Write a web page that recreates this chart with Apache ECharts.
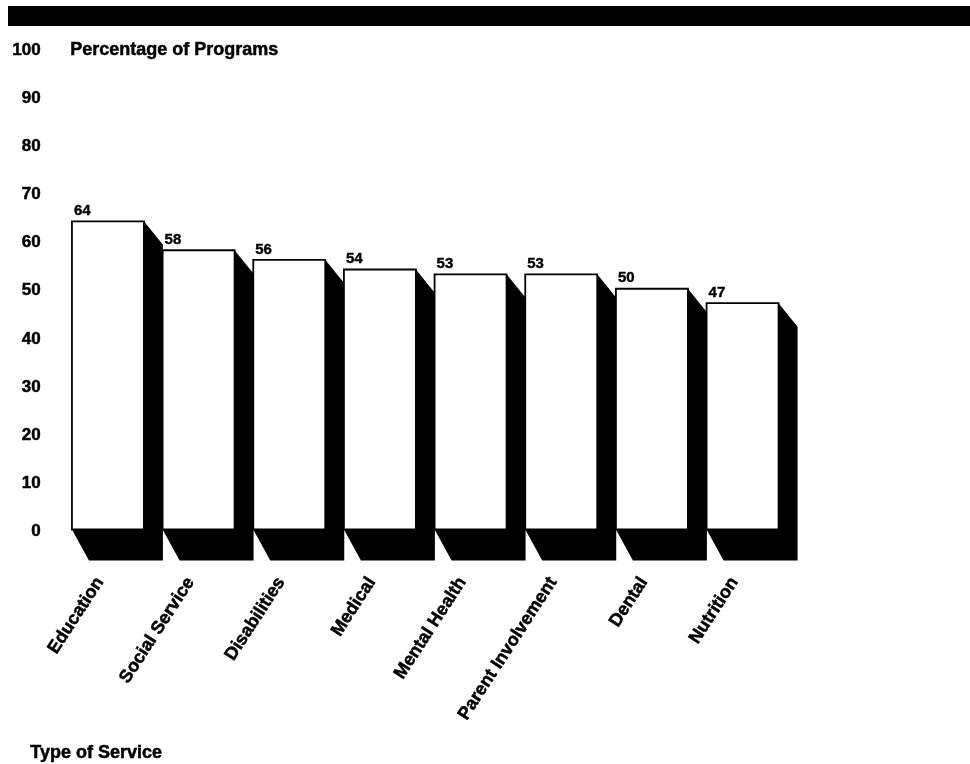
<!DOCTYPE html>
<html>
<head>
<meta charset="utf-8">
<script src="https://cdn.jsdelivr.net/npm/echarts@6/dist/echarts.min.js"></script>
<style>html,body{margin:0;padding:0;background:#fff;}#c{width:970px;height:764px;}</style>
</head>
<body>
<div id="c"></div>
<script>
var categories = ["Education", "Social Service", "Disabilities", "Medical", "Mental Health", "Parent Involvement", "Dental", "Nutrition"];
var values = [64, 58, 56, 54, 53, 53, 50, 47];
var yTicks = [0, 10, 20, 30, 40, 50, 60, 70, 80, 90, 100];
var yTitle = "Percentage of Programs";
var xTitle = "Type of Service";

var FONT = "Liberation Sans";
var chart = echarts.init(document.getElementById('c'), null, {renderer: 'canvas'});

var data = values.map(function (v, i) { return [i, v]; });

var option = {
  backgroundColor: '#ffffff',
  animation: false,
  grid: {left: 62.6, right: 182.1, top: 48, bottom: 234.5, containLabel: false},
  xAxis: {
    type: 'category',
    data: categories,
    boundaryGap: true,
    axisLine: {show: false},
    axisTick: {show: false},
    splitLine: {show: false},
    axisLabel: {
      interval: 0,
      rotate: 57,
      margin: 37,
      color: '#000',
      fontFamily: FONT,
      fontWeight: 'bold',
      fontSize: 18,
      textBorderColor: '#000',
      textBorderWidth: 0.5,
      padding: [0, 15, 0, 0]
    }
  },
  yAxis: {
    type: 'value',
    min: yTicks[0],
    max: yTicks[yTicks.length - 1],
    interval: 10,
    axisLine: {show: false},
    axisTick: {show: false},
    splitLine: {show: false},
    axisLabel: {
      margin: 22,
      formatter: '{a|{value}}',
      rich: {
        a: {
          color: '#000',
          fontFamily: FONT,
          fontWeight: 'bold',
          fontSize: 17,
          textBorderColor: '#000',
          textBorderWidth: 0.5,
          padding: [4, 0, 0, 0]
        }
      }
    }
  },
  graphic: [
    {type: 'rect', left: 8, top: 6, shape: {width: 962, height: 20}, style: {fill: '#000'}, z: 10},
    {type: 'text', left: 70, top: 41, style: {text: yTitle, fill: '#000', stroke: '#000', lineWidth: 0.5, font: 'bold 18px "Liberation Sans"'}, z: 10},
    {type: 'text', left: 30, top: 744, style: {text: xTitle, fill: '#000', stroke: '#000', lineWidth: 0.5, font: 'bold 18px "Liberation Sans"'}, z: 10}
  ],
  series: [{
    type: 'custom',
    data: data,
    encode: {x: 0, y: 1},
    renderItem: function (params, api) {
      var i = api.value(0), v = api.value(1);
      var topPt = api.coord([i, v]);
      var basePt = api.coord([i, 0]);
      var band = api.size([1, 0])[0];
      var bw = band * 0.794;
      var x0 = topPt[0] - bw / 2, x1 = topPt[0] + bw / 2;
      var yt = topPt[1], yb = basePt[1];
      var dx = 19, dy = 23.5, bdy = 31, bdx = 17;
      return {
        type: 'group',
        children: [
          {
            type: 'polygon',
            shape: {points: [[x1, yt], [x1 + dx, yt + dy], [x1 + dx, yb + bdy], [x0 + bdx, yb + bdy], [x0, yb], [x1, yb]]},
            style: {fill: '#000', stroke: null}
          },
          {
            type: 'rect',
            shape: {x: x0, y: yt, width: bw, height: yb - yt},
            style: {fill: '#fff', stroke: '#000', lineWidth: 1.8}
          },
          {
            type: 'text',
            style: {
              x: x0 + 2, y: yt - 3,
              text: String(v),
              fill: '#000',
              stroke: '#000',
              lineWidth: 0.4,
              font: 'bold 15px "Liberation Sans"',
              textAlign: 'left',
              textVerticalAlign: 'bottom'
            }
          }
        ]
      };
    }
  }]
};
chart.setOption(option);
</script>
</body>
</html>
